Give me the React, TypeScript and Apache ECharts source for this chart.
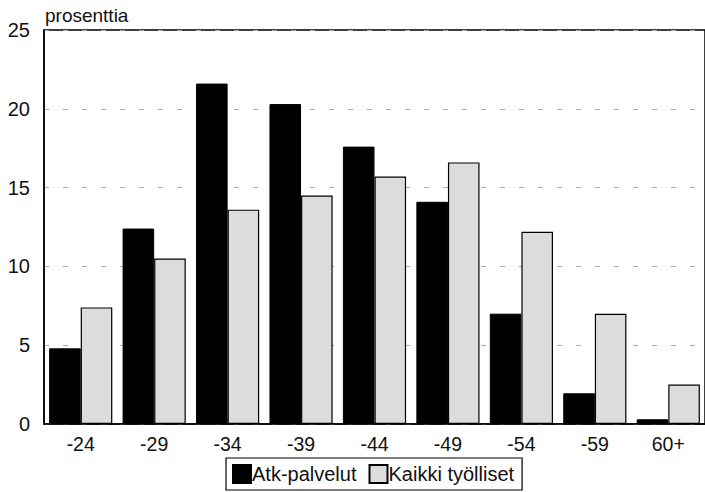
import React, { useEffect, useRef } from "react";
import * as echarts from "echarts";

const categories = ["-24", "-29", "-34", "-39", "-44", "-49", "-54", "-59", "60+"];
const atkPalvelut = [4.8, 12.4, 21.6, 20.3, 17.6, 14.1, 7.0, 1.95, 0.3];
const kaikkiTyolliset = [7.4, 10.5, 13.6, 14.5, 15.7, 16.6, 12.2, 7.0, 2.5];
const yTicks = [0, 5, 10, 15, 20, 25];

export default function App() {
  const ref = useRef<HTMLDivElement>(null);
  useEffect(() => {
    const chart = echarts.init(ref.current!, undefined, { renderer: "svg" });
    const font = "Liberation Sans, Arial, Helvetica, sans-serif";
    chart.setOption({
      animation: false,
      backgroundColor: "#fff",
      textStyle: { fontFamily: font },
      title: {
        text: "prosenttia",
        left: 40,
        top: 1,
        textStyle: { fontSize: 19, fontWeight: "normal", color: "#111", fontFamily: font },
      },
      legend: {
        bottom: 2,
        left: 226,
        icon: "rect",
        itemWidth: 18,
        itemHeight: 18,
        itemGap: 12,
        padding: [6, 8, 6, 6],
        borderColor: "#000",
        borderWidth: 1.2,
        textStyle: { fontSize: 20, color: "#111", fontFamily: font, padding: [0, 0, 0, -4] },
        data: ["Atk-palvelut", "Kaikki työlliset"],
      },
      grid: {
        left: 44,
        right: -9,
        top: 30,
        bottom: 68,
        show: true,
        borderColor: "#000",
        borderWidth: 1.5,
      },
      xAxis: {
        type: "category",
        data: categories,
        axisTick: { show: false },
        axisLine: { lineStyle: { color: "#000", width: 1.5 } },
        axisLabel: { fontSize: 19.5, color: "#111", margin: 10, fontFamily: font },
      },
      yAxis: {
        type: "value",
        min: yTicks[0],
        max: yTicks[yTicks.length - 1],
        interval: 5,
        axisLine: { show: true, lineStyle: { color: "#000", width: 1.5 } },
        axisTick: { show: false },
        axisLabel: { fontSize: 20, color: "#111", margin: 14, fontFamily: font },
        splitLine: { lineStyle: { color: "#aaa", type: [5, 14], width: 1 } },
      },
      series: [
        {
          name: "Atk-palvelut",
          type: "bar",
          data: atkPalvelut,
          barGap: "0%",
          barCategoryGap: "14%",
          itemStyle: { color: "#000", borderColor: "#000", borderWidth: 1 },
        },
        {
          name: "Kaikki työlliset",
          type: "bar",
          data: kaikkiTyolliset,
          itemStyle: { color: "#dcdcdc", borderColor: "#000", borderWidth: 1.2 },
        },
      ],
    });
    return () => chart.dispose();
  }, []);
  return <div ref={ref} style={{ width: 705, height: 492, position: "absolute", left: 0, top: 0 }} />;
}
